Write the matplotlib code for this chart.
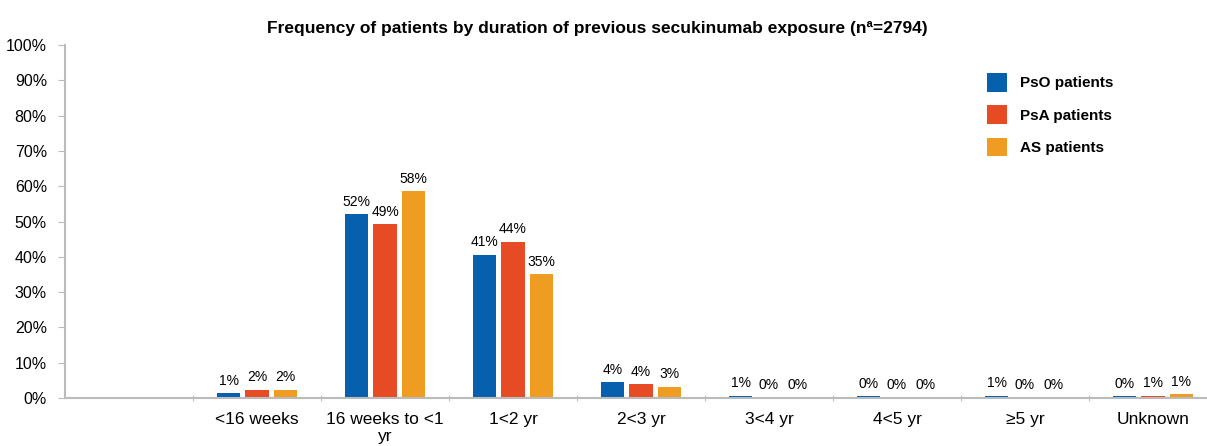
import numpy as np
import matplotlib
matplotlib.use("Agg")
import matplotlib.pyplot as plt

plt.rcParams['font.family'] = ['Liberation Sans', 'DejaVu Sans']

# Data
categories = ['', '<16 weeks', '16 weeks to <1\nyr', '1<2 yr', '2<3 yr',
              '3<4 yr', '4<5 yr', '\u22655 yr', 'Unknown']
series = ['PsO patients', 'PsA patients', 'AS patients']
pso = [np.nan, 1.4, 52.0, 40.5, 4.4, 0.6, 0.5, 0.7, 0.5]
psa = [np.nan, 2.4, 49.2, 44.2, 3.9, 0.1, 0.0, 0.0, 0.6]
as_ = [np.nan, 2.3, 58.5, 35.0, 3.2, 0.0, 0.0, 0.0, 1.1]
pso_lbl = ['', '1%', '52%', '41%', '4%', '1%', '0%', '1%', '0%']
psa_lbl = ['', '2%', '49%', '44%', '4%', '0%', '0%', '0%', '1%']
as_lbl = ['', '2%', '58%', '35%', '3%', '0%', '0%', '0%', '1%']
colors = ['#0660AD', '#E64B24', '#EE9C22']

fig = plt.figure(figsize=(12.07, 4.46), dpi=100)
ax = fig.add_axes([65 / 1207, 48 / 446, 1 - 65 / 1207, 353 / 446])

x = np.arange(len(categories))
width = 0.18
step = 0.22
all_vals = [pso, psa, as_]
all_lbls = [pso_lbl, psa_lbl, as_lbl]
for i, (vals, lbls, c, name) in enumerate(zip(all_vals, all_lbls, colors, series)):
    pos = x + (i - 1) * step
    ax.bar(pos, vals, width=width, color=c, label=name)
    for p, v, t in zip(pos, vals, lbls):
        if t:
            ax.annotate(t, (p, v), xytext=(0, 4), textcoords='offset points',
                        ha='center', va='bottom', fontsize=10)

ax.set_ylim(0, 100)
ax.set_xlim(-0.5, -0.5 + 1142 / 128)
ax.set_yticks(np.arange(0, 101, 10))
ax.set_yticklabels([f'{v}%' for v in range(0, 101, 10)], fontsize=11.5)

# boundaries as major ticks, labels at minor ticks
ax.set_xticks(np.arange(0.5, len(categories) - 0.5, 1))
ax.set_xticklabels([])
ax.set_xticks(x, minor=True)
ax.set_xticklabels(categories, minor=True, fontsize=12.5)
ax.tick_params(axis='x', which='minor', length=0, pad=10)
ax.tick_params(axis='x', which='major', length=5, color='#BBBBBB', direction='inout')
ax.tick_params(axis='y', length=5, color='#BBBBBB', direction='out', pad=8)

for s in ['top', 'right']:
    ax.spines[s].set_visible(False)
ax.spines['left'].set_color('#BBBBBB')
ax.spines['bottom'].set_color('#BBBBBB')
ax.spines['left'].set_linewidth(1.5)
ax.spines['bottom'].set_linewidth(1.5)

ax.legend(loc='upper left', bbox_to_anchor=(0.795, 0.96), frameon=False,
          prop={'weight': 'bold', 'size': 11}, handlelength=1.3, handleheight=1.5,
          labelspacing=0.9, handletextpad=0.9)

fig.text(0.495, 0.935, 'Frequency of patients by duration of previous secukinumab exposure (n\u00aa=2794)',
         ha='center', va='center', fontsize=12.5, fontweight='bold')

fig.savefig('out.png', dpi=100)
